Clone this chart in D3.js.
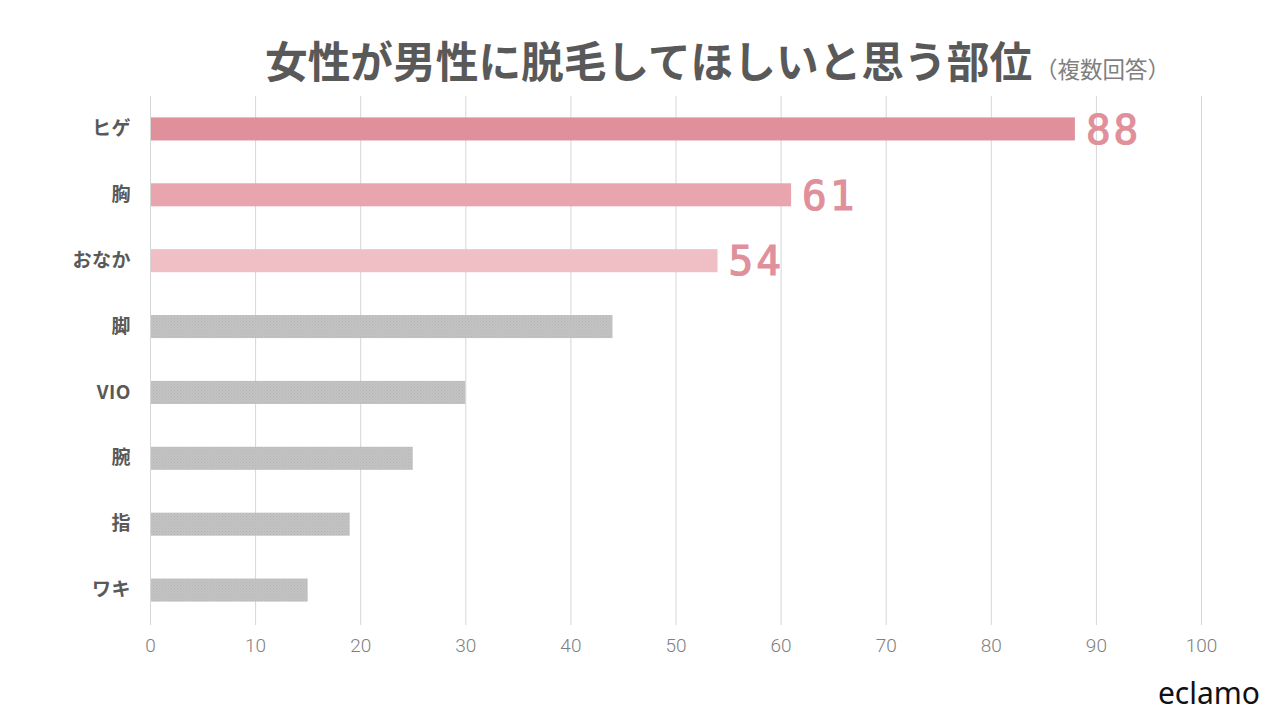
<!DOCTYPE html>
<html><head><meta charset="utf-8">
<script src="https://cdn.jsdelivr.net/npm/d3@7"></script>
<style>body{margin:0;background:#fff}svg{display:block}</style>
</head><body>
<svg id="c" width="1280" height="720"></svg>
<script>
const categories = ["ヒゲ","胸","おなか","脚","VIO","腕","指","ワキ"];
const values = [88,61,54,44,30,25,19,15];
const barColors = ["#E0909B","#E8A5AD","#F0BFC6","#BFBFBF","#BFBFBF","#BFBFBF","#BFBFBF","#BFBFBF"];
const showLabel = [true,true,true,false,false,false,false,false];
const xTicks = [0,10,20,30,40,50,60,70,80,90,100];

const svg = d3.select("#c");
const defs = svg.append("defs");
const pat = defs.append("pattern").attr("id","dots").attr("width",3).attr("height",3).attr("patternUnits","userSpaceOnUse");
pat.append("rect").attr("width",3).attr("height",3).attr("fill","#C3C3C3");
pat.append("rect").attr("x",0).attr("y",0).attr("width",1).attr("height",1).attr("fill","#B5B5B5");
pat.append("rect").attr("x",1.5).attr("y",1.5).attr("width",1).attr("height",1).attr("fill","#B8B8B8");

const x = d3.scaleLinear().domain([0,100]).range([150,1201]);
const y = d3.scaleBand().domain(categories).range([96,623]).paddingInner(0.65).paddingOuter(0.325);

// grid
svg.append("g").selectAll("line").data(xTicks).join("line")
  .attr("x1",d=>x(d)+0.5).attr("x2",d=>x(d)+0.5).attr("y1",96).attr("y2",625)
  .attr("stroke","#D6D6D6").attr("stroke-width",1);

// x axis labels
const xa = svg.append("g").attr("transform","translate(0,625)")
  .call(d3.axisBottom(x).tickValues(xTicks).tickSize(0).tickPadding(14));
xa.select(".domain").remove();
xa.selectAll("text").attr("font-family","Roboto, 'Noto Sans', sans-serif").attr("font-weight",300)
  .attr("font-size",19).attr("fill","#7F7F7F");

// bars
svg.append("g").selectAll("rect").data(categories).join("rect")
  .attr("x",x(0)+1).attr("y",d=>y(d)).attr("height",y.bandwidth())
  .attr("width",(d,i)=>x(values[i])-x(0)-1)
  .attr("fill",(d,i)=>i>=3?"url(#dots)":barColors[i]);

// y axis labels
const ya = svg.append("g").attr("transform","translate(150,0)")
  .call(d3.axisLeft(y).tickSize(0).tickPadding(19));
ya.select(".domain").remove();
ya.selectAll("text").attr("font-family","'Noto Sans CJK JP', sans-serif").attr("font-weight",700)
  .attr("font-size",19).attr("fill","#595959").attr("letter-spacing",0.5);

// value labels
svg.append("g").selectAll("text").data(categories.filter((d,i)=>showLabel[i])).join("text")
  .attr("x",(d,i)=>x(values[i])+11).attr("y",d=>y(d)+y.bandwidth()/2)
  .attr("dy","0.36em")
  .attr("font-family","'DejaVu Sans Mono', monospace").attr("font-size",41).attr("font-weight",400)
  .attr("stroke","#E0909B").attr("stroke-width",1.2)
  .attr("fill","#E0909B").attr("letter-spacing",3)
  .text((d,i)=>values[i]);

// title
const t = svg.append("text").attr("x",265).attr("y",78).attr("text-anchor","start")
  .attr("font-family","'Noto Sans CJK JP', sans-serif");
t.append("tspan").attr("font-weight",700).attr("font-size",42.7).attr("fill","#595959")
  .text("女性が男性に脱毛してほしいと思う部位");
t.append("tspan").attr("font-weight",400).attr("font-size",22.5).attr("fill","#7F7F7F").attr("dx",3)
  .text("（複数回答）");

svg.append("text").attr("x",1260).attr("y",704).attr("text-anchor","end")
  .attr("font-family","'Noto Sans', sans-serif").attr("font-size",30).attr("fill","#111")
  .text("eclamo");
</script>
</body></html>
